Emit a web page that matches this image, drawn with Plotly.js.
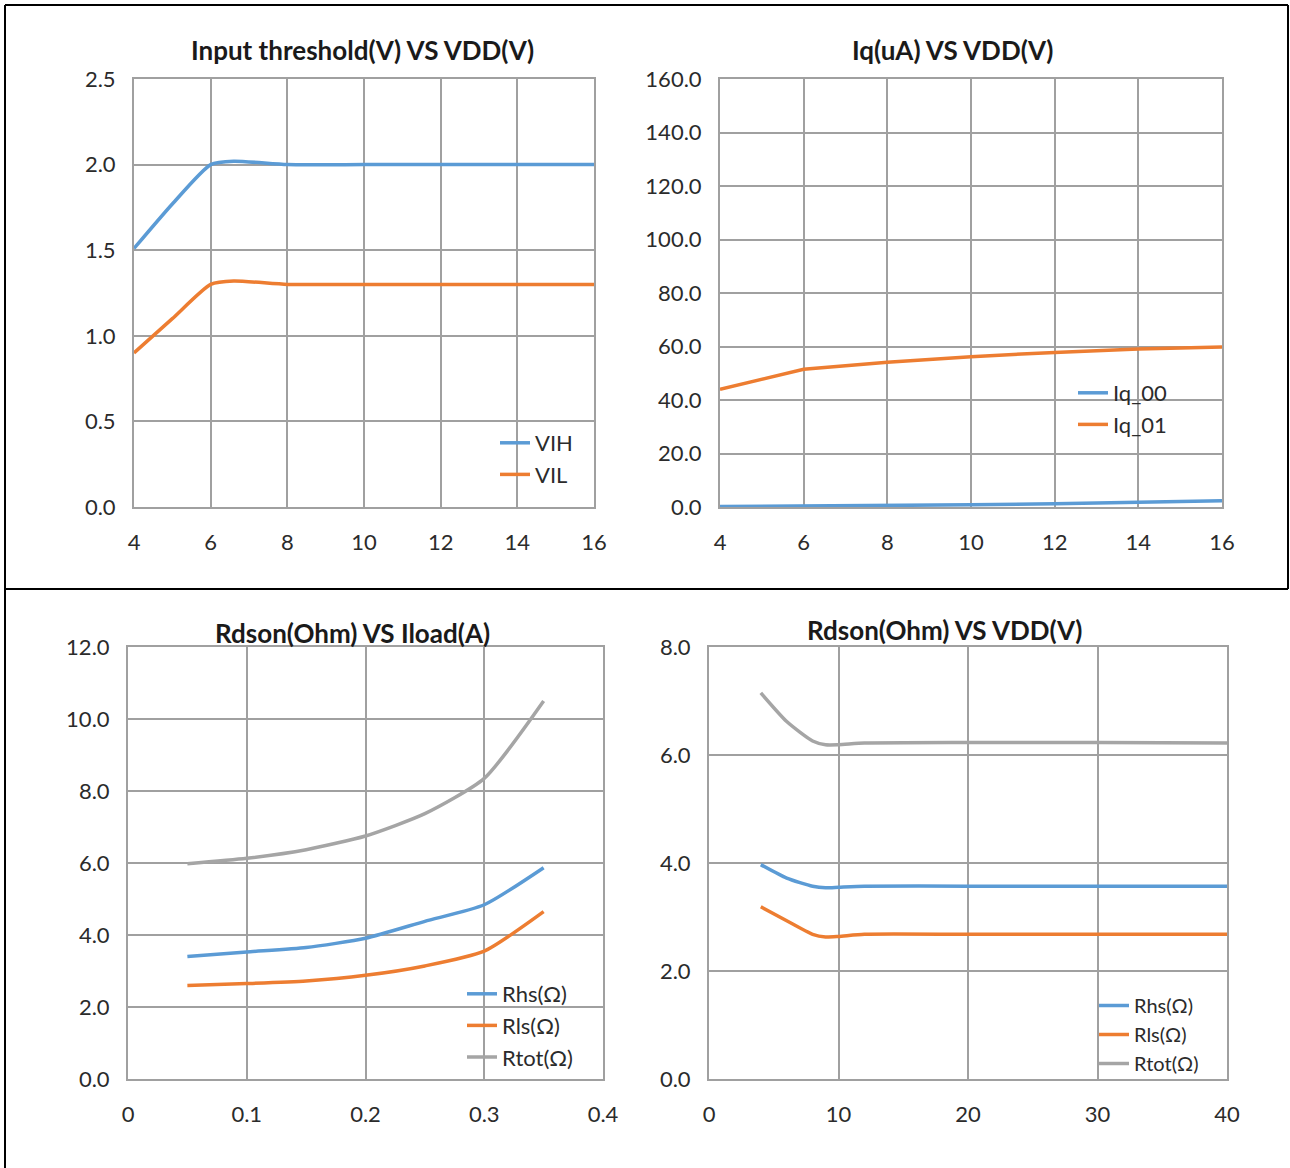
<!DOCTYPE html>
<html>
<head>
<meta charset="utf-8">
<script src="https://cdn.plot.ly/plotly-3.0.1.min.js"></script>
<style>
html,body{margin:0;padding:0;background:#fff;}
#chart{width:1290px;height:1168px;}
</style>
</head>
<body>
<div id="chart"></div>
<script>
// ---- Panel 1: Input threshold(V) VS VDD(V)
const vddThr = [4, 5, 6, 6.6, 8, 10, 12, 14, 16];
const vih    = [1.51, 1.77, 2.0, 2.02, 2.0, 2.0, 2.0, 2.0, 2.0];
const vil    = [0.90, 1.10, 1.30, 1.32, 1.30, 1.30, 1.30, 1.30, 1.30];

// ---- Panel 2: Iq(uA) VS VDD(V)
const vddIq = [4, 6, 8, 10, 12, 14, 16];
const iq00  = [0.2, 0.3, 0.5, 0.8, 1.2, 1.7, 2.3];
const iq01  = [44.0, 51.5, 54.1, 56.2, 57.8, 59.1, 59.8];

// ---- Panel 3: Rdson(Ohm) VS Iload(A)
const iload   = [0.05, 0.10, 0.15, 0.20, 0.25, 0.30, 0.35];
const rhsI    = [3.40, 3.53, 3.65, 3.91, 4.38, 4.84, 5.87];
const rlsI    = [2.60, 2.65, 2.72, 2.88, 3.14, 3.55, 4.65];
const rtotI   = [5.98, 6.13, 6.37, 6.75, 7.37, 8.35, 10.50];

// ---- Panel 4: Rdson(Ohm) VS VDD(V)
const vddR  = [4, 6, 8, 9, 10, 12, 20, 30, 40];
const rhsV  = [3.97, 3.72, 3.57, 3.54, 3.55, 3.57, 3.57, 3.57, 3.57];
const rlsV  = [3.19, 2.93, 2.68, 2.63, 2.64, 2.68, 2.68, 2.68, 2.68];
const rtotV = [7.15, 6.62, 6.26, 6.19, 6.19, 6.22, 6.23, 6.23, 6.22];

const titles = ['Input threshold(V) VS VDD(V)', 'Iq(uA) VS VDD(V)', 'Rdson(Ohm) VS Iload(A)', 'Rdson(Ohm) VS VDD(V)'];
const namesThr = ['VIH', 'VIL'];
const namesIq = ['Iq_00', 'Iq_01'];
const namesR = ['Rhs(\u03A9)', 'Rls(\u03A9)', 'Rtot(\u03A9)'];

const BLUE = '#5b9bd5', ORANGE = '#ed7d31', GRAY = '#a5a5a5';
const W = 1290, H = 1168;
const px = v => v / W;
const py = v => 1 - v / H;

function tr(x, y, name, color, xa, ya, leg, shape) {
  return {x: x, y: y, name: name, type: 'scatter', mode: 'lines',
    line: {color: color, width: 3.5, shape: shape || 'spline', smoothing: 0.6},
    xaxis: xa, yaxis: ya, legend: leg, hoverinfo: 'skip'};
}

const data = [
  tr(vddThr, vih, namesThr[0], BLUE, 'x', 'y', 'legend'),
  tr(vddThr, vil, namesThr[1], ORANGE, 'x', 'y', 'legend'),
  tr(vddIq, iq00, namesIq[0], BLUE, 'x2', 'y2', 'legend2', 'linear'),
  tr(vddIq, iq01, namesIq[1], ORANGE, 'x2', 'y2', 'legend2', 'linear'),
  tr(iload, rhsI, namesR[0], BLUE, 'x3', 'y3', 'legend3'),
  tr(iload, rlsI, namesR[1], ORANGE, 'x3', 'y3', 'legend3'),
  tr(iload, rtotI, namesR[2], GRAY, 'x3', 'y3', 'legend3'),
  tr(vddR, rhsV, namesR[0], BLUE, 'x4', 'y4', 'legend4'),
  tr(vddR, rlsV, namesR[1], ORANGE, 'x4', 'y4', 'legend4'),
  tr(vddR, rtotV, namesR[2], GRAY, 'x4', 'y4', 'legend4')
];

const FONT = 'Lato, "Open Sans", "DejaVu Sans", sans-serif';
const GRID = '#a0a0a0';
const tickFont = {family: FONT, size: 22, color: '#2b2b2b'};

function xax(dom, range, dtick, anchor) {
  return {domain: dom, range: range, dtick: dtick, tick0: 0, anchor: anchor,
    showgrid: true, gridcolor: GRID, gridwidth: 2, showline: true, mirror: true,
    linecolor: GRID, linewidth: 2, zeroline: false, ticks: 'outside', ticklen: 15,
    tickcolor: 'rgba(0,0,0,0)', tickfont: tickFont, fixedrange: true};
}
function yax(dom, range, dtick, anchor) {
  return {domain: dom, range: range, dtick: dtick, tick0: 0, anchor: anchor,
    tickformat: '.1f', showgrid: true, gridcolor: GRID, gridwidth: 2, showline: true,
    mirror: true, linecolor: GRID, linewidth: 2, zeroline: false, ticks: 'outside',
    ticklen: 12, tickcolor: 'rgba(0,0,0,0)', tickfont: tickFont, fixedrange: true};
}

function legend(x, yTop, size) {
  return {x: px(x), y: py(yTop), xanchor: 'left', yanchor: 'top',
    bgcolor: 'rgba(0,0,0,0)', borderwidth: 0, tracegroupgap: 0,
    font: {family: FONT, size: size || 22, color: '#2b2b2b'}};
}

function title(text, cx, cy) {
  return {text: '<b>' + text + '</b>', x: px(cx), y: py(cy), xref: 'paper', yref: 'paper',
    xanchor: 'center', yanchor: 'middle', showarrow: false,
    font: {family: FONT, size: 26, color: '#1a1a1a'}};
}

function line(x0, y0, x1, y1) {
  return {type: 'line', xref: 'paper', yref: 'paper', x0: px(x0), y0: py(y0), x1: px(x1), y1: py(y1),
    line: {color: '#000000', width: 2}};
}

const layout = {
  width: W, height: H,
  margin: {l: 0, r: 0, t: 0, b: 0},
  paper_bgcolor: '#ffffff', plot_bgcolor: '#ffffff',
  showlegend: true,
  xaxis: xax([px(134), px(594)], [4, 16], 2, 'y'),
  yaxis: yax([py(507), py(79)], [0, 2.5], 0.5, 'x'),
  xaxis2: xax([px(720), px(1222)], [4, 16], 2, 'y2'),
  yaxis2: yax([py(507), py(79)], [0, 160], 20, 'x2'),
  xaxis3: xax([px(128), px(603)], [0, 0.4], 0.1, 'y3'),
  yaxis3: yax([py(1079), py(647)], [0, 12], 2, 'x3'),
  xaxis4: xax([px(709), px(1227)], [0, 40], 10, 'y4'),
  yaxis4: yax([py(1079), py(647)], [0, 8], 2, 'x4'),
  legend: legend(495, 422),
  legend2: legend(1073, 372),
  legend3: legend(462, 973),
  legend4: legend(1094, 986, 20),
  annotations: [
    title(titles[0], 362, 50),
    title(titles[1], 953, 50),
    title(titles[2], 353, 633),
    title(titles[3], 944, 630)
  ],
  shapes: [
    line(5, 5, 1288, 5),
    line(5, 5, 5, 1168),
    line(5, 589, 1288, 589),
    line(1288, 5, 1288, 589)
  ]
};

Plotly.newPlot('chart', data, layout, {staticPlot: true, displayModeBar: false});
</script>
</body>
</html>
